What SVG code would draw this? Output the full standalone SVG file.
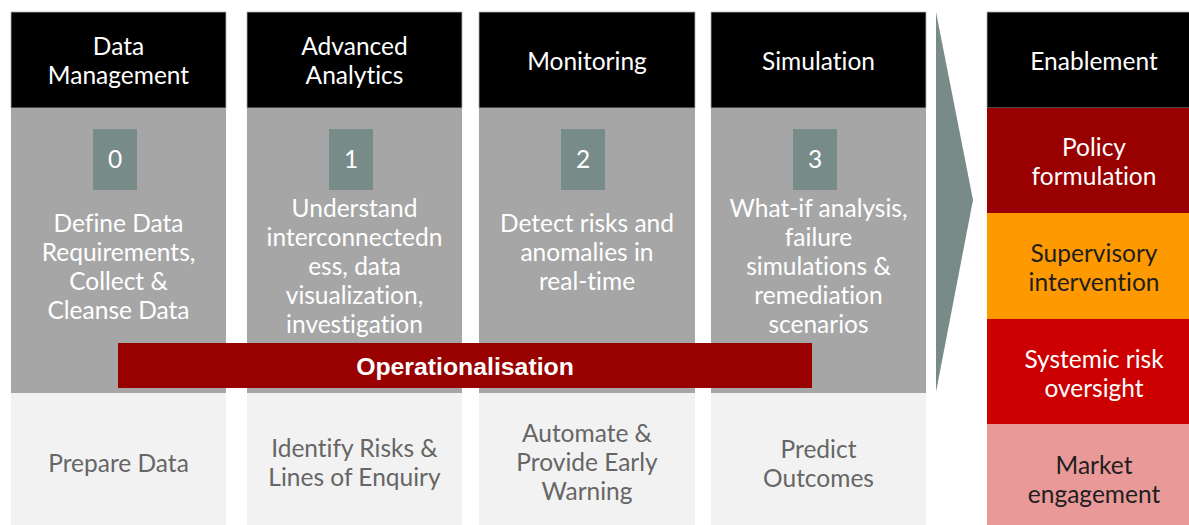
<svg xmlns="http://www.w3.org/2000/svg" width="1189" height="525" viewBox="0 0 1189 525">
<style>
text{font-family:Lato,"Noto Sans",sans-serif;font-size:24.5px;text-anchor:middle;font-variant-ligatures:none}
.hd{fill:#000;stroke:#b0b0b0;stroke-width:0.8}
.bd{fill:#a6a6a6}
.lt{fill:#f2f2f2}
.nb{fill:#778b89}
.w{fill:#fff}
.g{fill:#666}
.k{fill:#1e1e1e}
.op{font-family:"Liberation Sans",Arial,sans-serif;font-weight:bold;font-size:24.8px;fill:#fff}
</style>
<rect width="1189" height="525" fill="#fff"/>
<g id="col-data-management">
<rect class="hd" x="11" y="12" width="215" height="96"/>
<rect class="bd" x="11" y="108" width="215" height="285"/>
<rect class="lt" x="11" y="393" width="215" height="132"/>
<rect class="nb" x="93" y="129" width="44" height="61"/>
<text class="w" x="115" y="168">0</text>
<text class="w" x="118.5" y="55">Data</text>
<text class="w" x="118.5" y="84">Management</text>
<text class="w" x="118.5" y="232">Define Data</text>
<text class="w" x="118.5" y="261">Requirements,</text>
<text class="w" x="118.5" y="290">Collect &amp;</text>
<text class="w" x="118.5" y="319">Cleanse Data</text>
<text class="g" x="118.5" y="472">Prepare Data</text>
</g>
<g id="col-advanced-analytics">
<rect class="hd" x="247" y="12" width="215" height="96"/>
<rect class="bd" x="247" y="108" width="215" height="285"/>
<rect class="lt" x="247" y="393" width="215" height="132"/>
<rect class="nb" x="329" y="129" width="44" height="61"/>
<text class="w" x="351" y="168">1</text>
<text class="w" x="354.5" y="55">Advanced</text>
<text class="w" x="354.5" y="84">Analytics</text>
<text class="w" x="354.5" y="217">Understand</text>
<text class="w" x="354.5" y="246">interconnectedn</text>
<text class="w" x="354.5" y="275">ess, data</text>
<text class="w" x="354.5" y="304">visualization,</text>
<text class="w" x="354.5" y="333">investigation</text>
<text class="g" x="354.5" y="457">Identify Risks &amp;</text>
<text class="g" x="354.5" y="486">Lines of Enquiry</text>
</g>
<g id="col-monitoring">
<rect class="hd" x="479" y="12" width="216" height="96"/>
<rect class="bd" x="479" y="108" width="216" height="285"/>
<rect class="lt" x="479" y="393" width="216" height="132"/>
<rect class="nb" x="561" y="129" width="44" height="61"/>
<text class="w" x="583" y="168">2</text>
<text class="w" x="587" y="70">Monitoring</text>
<text class="w" x="587" y="232">Detect risks and</text>
<text class="w" x="587" y="261">anomalies in</text>
<text class="w" x="587" y="290">real-time</text>
<text class="g" x="587" y="442">Automate &amp;</text>
<text class="g" x="587" y="471">Provide Early</text>
<text class="g" x="587" y="500">Warning</text>
</g>
<g id="col-simulation">
<rect class="hd" x="711" y="12" width="215" height="96"/>
<rect class="bd" x="711" y="108" width="215" height="285"/>
<rect class="lt" x="711" y="393" width="215" height="132"/>
<rect class="nb" x="793" y="129" width="44" height="61"/>
<text class="w" x="815" y="168">3</text>
<text class="w" x="818.5" y="70">Simulation</text>
<text class="w" x="818.5" y="217">What-if analysis,</text>
<text class="w" x="818.5" y="246">failure</text>
<text class="w" x="818.5" y="275">simulations &amp;</text>
<text class="w" x="818.5" y="304">remediation</text>
<text class="w" x="818.5" y="333">scenarios</text>
<text class="g" x="818.5" y="458">Predict</text>
<text class="g" x="818.5" y="487">Outcomes</text>
</g>
<g id="operationalisation">
<rect x="118" y="343" width="694" height="45" fill="#990000"/>
<text class="op" x="465" y="374.5">Operationalisation</text>
</g>
<g id="connectors">
<polygon points="936,12 973,200 936,392" fill="#798b89"/>
</g>
<g id="col-enablement">
<rect class="hd" x="987" y="12" width="203" height="96"/>
<text class="w" x="1094" y="70">Enablement</text>
<rect x="987" y="108" width="202" height="105" fill="#990000"/>
<text class="w" x="1094" y="156">Policy</text>
<text class="w" x="1094" y="185">formulation</text>
<rect x="987" y="213" width="202" height="106" fill="#ff9900"/>
<text class="k" x="1094" y="262">Supervisory</text>
<text class="k" x="1094" y="291">intervention</text>
<rect x="987" y="319" width="202" height="105" fill="#cc0000"/>
<text class="w" x="1094" y="368">Systemic risk</text>
<text class="w" x="1094" y="397">oversight</text>
<rect x="987" y="424" width="202" height="101" fill="#ea9999"/>
<text class="k" x="1094" y="474">Market</text>
<text class="k" x="1094" y="503">engagement</text>
</g>
</svg>
